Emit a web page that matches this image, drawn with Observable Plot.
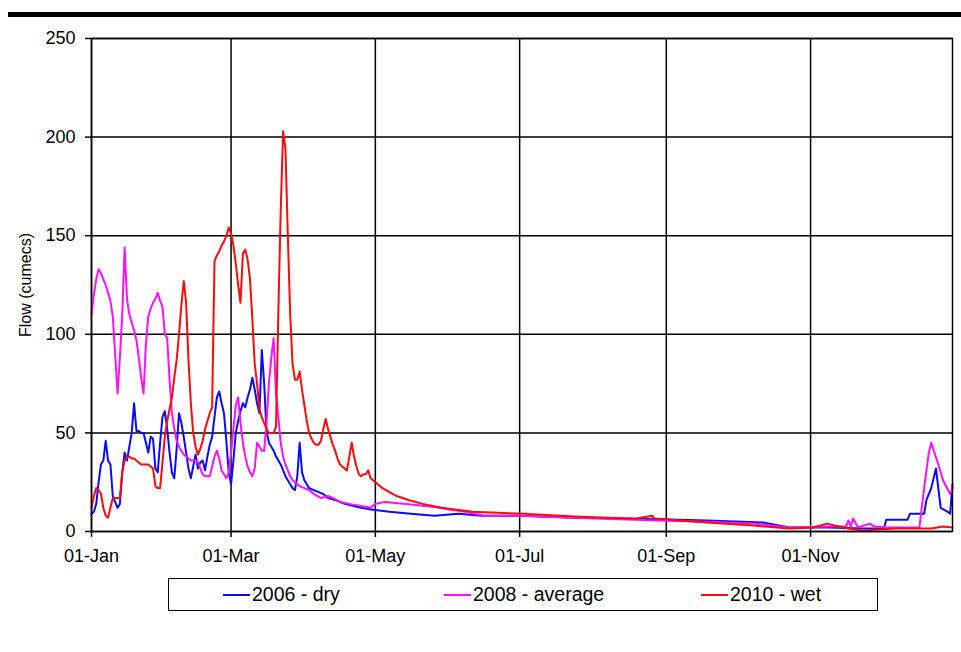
<!DOCTYPE html>
<html>
<head>
<meta charset="utf-8">
<script src="https://cdn.jsdelivr.net/npm/d3@7"></script>
<script src="https://cdn.jsdelivr.net/npm/@observablehq/plot@0.6"></script>
<style>
  html, body { margin: 0; padding: 0; background: #fff; }
  #wrap { position: relative; width: 961px; height: 652px; overflow: hidden; font-family: "Liberation Sans", Arial, sans-serif; }
  #rule { position: absolute; left: 8px; top: 12px; width: 953px; height: 5px; background: #000; }
  #chart { position: absolute; left: 0; top: 17px; }
  #legend { position: absolute; left: 168px; top: 578px; width: 708px; height: 31px; border: 1.5px solid #000; }
  .item { position: absolute; top: 0; height: 31px; display: flex; align-items: center; font-size: 19.5px; color: #000; }
  .swatch { display: inline-block; width: 27px; height: 2px; margin-right: 2px; }
</style>
</head>
<body>
<div id="wrap">
  <div id="rule"></div>
  <div id="chart"></div>
  <div id="legend"></div>
</div>
<script>
// ---- data: [day of year (0 = 01-Jan), flow in cumecs] ----
const seriesNames = ["2006 - dry", "2008 - average", "2010 - wet"];
const seriesColors = ["#0a0aff", "#ff10ff", "#ff0a0a"];

const dry2006 = [
  [0,9],[1,10],[2,14],[3,25],[4,34],[5,36],[6,46],[7,36],[8,34],[9,18],[10,15],[11,12],[12,14],
  [13,30],[14,40],[15,36],[16,43],[17,50],[18,65],[19,51],[20,51],[21,50],[22,50],[23,45],[24,40],
  [25,48],[26,47],[27,32],[28,30],[29,45],[30,58],[31,61],[32,52],[33,40],[34,30],[35,27],[36,42],
  [37,60],[38,55],[39,48],[40,40],[41,32],[42,27],[43,33],[44,39],[45,32],[46,35],[47,36],[48,31],
  [49,38],[50,44],[51,48],[52,58],[53,68],[54,71],[55,65],[56,60],[57,46],[58,30],[59,24],[60,36],
  [61,50],[62,56],[63,61],[64,65],[65,63],[66,68],[67,72],[68,78],[69,72],[70,65],[71,60],[72,92],
  [73,75],[74,51],[75,45],[76,43],[77,41],[78,38],[79,36],[80,34],[81,31],[82,28],[83,26],[84,24],
  [85,22],[86,21],[87,28],[88,45],[89,30],[90,26],[91,24],[92,22],[94,21],[96,20],[98,19],[100,17],
  [103,16],[107,14],[114,12],[119,11],[126,10],[135,9],[145,8],[155,9],[165,8],[181,8],[204,7],
  [232,6.5],[260,5.6],[284,4.6],[295,2],[312,2],[326,1.5],[335,1.5],[336,6],[345,6],[346,9],[352,9],
  [353,16],[355,22],[357,32],[358,22],[359,12],[362,10],[363,9],[364,24]
];

const average2008 = [
  [0,110],[1,120],[2,128],[3,133],[4,131],[5,128],[6,125],[7,121],[8,117],[9,109],[10,90],[11,70],
  [12,88],[13,110],[14,144],[15,118],[16,110],[17,106],[18,102],[19,97],[20,88],[21,78],[22,70],
  [23,95],[24,109],[25,113],[26,116],[27,118],[28,121],[29,117],[30,114],[31,100],[32,98],[33,77],
  [34,60],[35,52],[36,46],[37,43],[38,41],[39,39],[40,38],[41,37],[42,36],[43,36],[44,36],[45,35],
  [46,32],[47,29],[48,28],[49,28],[50,28],[51,33],[52,38],[53,41],[54,37],[55,31],[56,29],[57,27],
  [58,30],[59,40],[60,52],[61,64],[62,68],[63,55],[64,45],[65,38],[66,33],[67,30],[68,28],[69,32],
  [70,45],[71,43],[72,41],[73,41],[74,55],[75,75],[76,88],[77,98],[78,70],[79,58],[80,45],[81,38],
  [82,34],[83,31],[84,28],[85,26],[86,25],[88,23],[90,22],[92,21],[94,19],[97,17],[100,18],[102,17],
  [105,15],[109,14],[114,13],[118,12],[120,14],[124,15],[133,14],[140,13],[147,12],[152,11],[158,10],
  [166,8],[181,8],[204,7],[239,5.6],[260,5],[280,4],[295,2],[312,2.5],[319,2.5],[320,5.6],[321,2.5],
  [322,6.6],[324,2],[329,4],[331,2.5],[336,2],[350,2],[352,22],[354,40],[355,45],[358,34],[360,26],
  [363,19],[364,22]
];

const wet2010 = [
  [0,12],[1,18],[2,22],[3,21],[4,19],[5,12],[6,8],[7,7],[8,12],[9,17],[10,17],[11,17],[12,17],
  [13,30],[14,36],[15,38],[16,38],[17,37],[18,37],[19,36],[20,35],[21,34],[22,34],[23,34],[24,34],
  [25,33],[26,32],[27,23],[28,22],[29,22],[30,35],[31,48],[32,56],[33,62],[34,68],[35,78],[36,87],
  [37,100],[38,115],[39,127],[40,116],[41,87],[42,65],[43,50],[44,43],[45,39],[46,42],[47,46],
  [48,52],[49,56],[50,60],[51,63],[52,137],[53,140],[54,142],[55,145],[56,147],[57,150],[58,154],
  [59,151],[60,145],[61,136],[62,125],[63,116],[64,141],[65,143],[66,138],[67,128],[68,108],[69,85],
  [70,75],[71,62],[72,58],[73,55],[74,52],[75,50],[76,50],[77,50],[78,53],[79,112],[80,163],[81,203],
  [82,194],[83,150],[84,110],[85,85],[86,77],[87,77],[88,81],[89,72],[90,64],[91,56],[92,50],[93,47],
  [94,45],[95,44],[96,44],[97,46],[98,52],[99,57],[100,52],[101,48],[102,44],[103,41],[104,37],
  [105,34],[106,33],[107,32],[108,31],[109,38],[110,45],[111,38],[112,33],[113,29],[114,28],[115,29],
  [116,29],[117,31],[118,27],[120,25],[123,22],[126,20],[129,18],[134,16],[140,14],[148,12],[161,10],
  [183,9],[204,7.6],[230,6.5],[237,8],[238,6.6],[260,4.6],[280,3],[295,1.5],[305,2],[311,4],[314,3],
  [320,1.5],[326,0.5],[340,1.5],[355,1.5],[360,2.5],[364,2]
];

const xTickDays = [0, 59, 120, 181, 243, 304];
const xTickLabels = ["01-Jan", "01-Mar", "01-May", "01-Jul", "01-Sep", "01-Nov"];
const yTicks = [0, 50, 100, 150, 200, 250];
const yLabel = "Flow (cumecs)";

// ---- build table ----
const toDate = d => new Date(Date.UTC(2010, 0, 1 + d));
const seriesData = [dry2006, average2008, wet2010];
const rows = [];
seriesData.forEach((arr, i) => arr.forEach(([d, v]) => rows.push({date: toDate(d), flow: v, series: seriesNames[i]})));
const tickDates = xTickDays.map(toDate);
const labelOf = new Map(tickDates.map((d, i) => [+d, xTickLabels[i]]));

const chart = Plot.plot({
  width: 961,
  height: 555,
  marginLeft: 91,
  marginRight: 9,
  marginTop: 21,
  marginBottom: 41,
  style: {fontFamily: "'Liberation Sans', Arial, sans-serif", fontSize: "18px", color: "#000", background: "#fff"},
  x: {type: "utc", domain: [toDate(0), toDate(364)]},
  y: {domain: [0, 250]},
  color: {domain: seriesNames, range: seriesColors},
  marks: [
    Plot.gridX(tickDates, {stroke: "#000", strokeOpacity: 1, strokeWidth: 1.5}),
    Plot.gridY(yTicks, {stroke: "#000", strokeOpacity: 1, strokeWidth: 1.5}),
    Plot.line(rows, {x: "date", y: "flow", z: "series", stroke: "series", strokeWidth: 2, curve: "linear"}),
    Plot.frame({stroke: "#000", strokeWidth: 1.5}),
    Plot.axisX(tickDates, {tickFormat: d => labelOf.get(+d), tickSize: 6, tickPadding: 12, strokeWidth: 1.5, label: null}),
    Plot.axisY(yTicks, {tickSize: 6, tickPadding: 10, strokeWidth: 1.5, label: null}),
    Plot.text([yLabel], {frameAnchor: "left", textAnchor: "middle", dx: -66, rotate: -90, fontSize: 16})
  ]
});
document.getElementById("chart").appendChild(chart);

// ---- legend ----
const legend = document.getElementById("legend");
const legendLeft = [54, 275, 532];
seriesNames.forEach((name, i) => {
  const item = document.createElement("div");
  item.className = "item";
  item.style.left = legendLeft[i] + "px";
  const sw = document.createElement("span");
  sw.className = "swatch";
  sw.style.background = seriesColors[i];
  item.appendChild(sw);
  item.appendChild(document.createTextNode(name));
  legend.appendChild(item);
});
</script>
</body>
</html>
